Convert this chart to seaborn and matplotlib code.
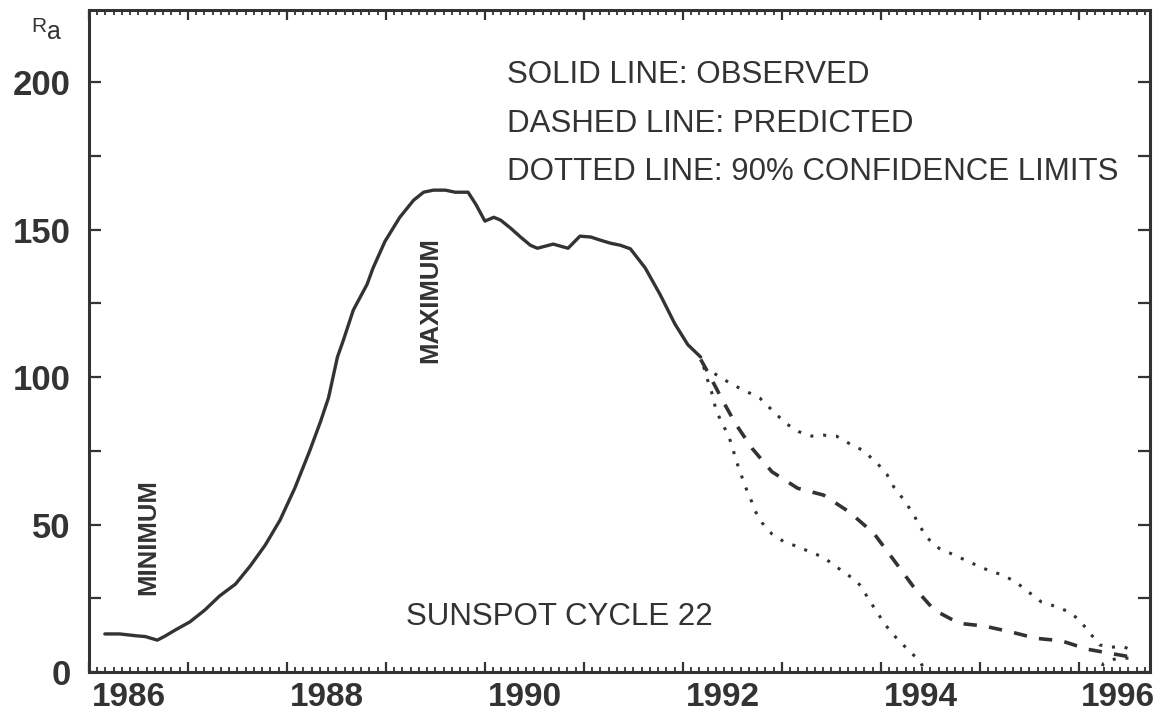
import matplotlib
matplotlib.use('Agg')
import matplotlib.pyplot as plt
import seaborn as sns
from matplotlib.ticker import MultipleLocator

# smoothed sunspot number Ra, cycle 22
obs_year = [1986.16, 1986.31, 1986.47, 1986.57, 1986.69, 1986.77, 1986.87, 1987.02,
            1987.17, 1987.32, 1987.48, 1987.63, 1987.78, 1987.93, 1988.08, 1988.23,
            1988.34, 1988.42, 1988.51, 1988.57, 1988.67, 1988.81, 1988.87, 1988.99,
            1989.14, 1989.28, 1989.38, 1989.48, 1989.60, 1989.70, 1989.83, 1989.91,
            1990.00, 1990.09, 1990.16, 1990.26, 1990.36, 1990.46, 1990.53, 1990.69,
            1990.84, 1990.96, 1991.07, 1991.17, 1991.27, 1991.37, 1991.47, 1991.62,
            1991.77, 1991.92, 1992.05, 1992.18]
obs_ra = [12.9, 12.9, 12.3, 12.0, 10.8, 12.2, 14.2, 17.0,
          21.0, 25.8, 29.8, 36.0, 43.0, 51.5, 62.4, 75.0,
          85.0, 93.0, 106.8, 112.5, 122.7, 131.5, 137.0, 146.0,
          154.2, 160.0, 162.7, 163.4, 163.4, 162.7, 162.7, 158.5,
          152.9, 154.2, 153.2, 150.5, 147.5, 144.7, 143.7, 145.1,
          143.7, 147.8, 147.5, 146.4, 145.4, 144.7, 143.5, 137.0,
          128.0, 118.0, 111.0, 106.8]

# predicted (dashed)
pred_year = [1992.18, 1992.25, 1992.40, 1992.53, 1992.70, 1992.90, 1993.16, 1993.42,
             1993.68, 1993.93, 1994.13, 1994.33, 1994.54, 1994.79, 1995.04, 1995.30,
             1995.57, 1995.82, 1996.09, 1996.32, 1996.56]
pred_ra = [106.0, 101.8, 92.2, 84.3, 75.8, 67.9, 62.3, 60.0,
           54.3, 47.0, 38.0, 28.9, 21.0, 16.5, 15.6, 13.7,
           11.4, 10.6, 7.7, 6.3, 4.9]

# 90% confidence limits (dotted)
upper_year = [1992.21, 1992.40, 1992.51, 1992.65, 1992.78, 1992.91, 1993.04, 1993.17,
              1993.30, 1993.42, 1993.55, 1993.69, 1993.81, 1993.95, 1994.06, 1994.13,
              1994.23, 1994.32, 1994.39, 1994.46, 1994.59, 1994.72, 1994.85, 1994.98,
              1995.10, 1995.23, 1995.36, 1995.49, 1995.62, 1995.75, 1995.88, 1996.00,
              1996.10, 1996.21, 1996.32, 1996.45, 1996.57]
upper_ra = [103.5, 99.5, 97.3, 95.0, 92.8, 88.5, 84.3, 81.5,
            80.0, 80.3, 80.0, 77.3, 75.3, 71.3, 67.1, 62.8,
            58.5, 54.0, 49.8, 45.7, 41.9, 40.0, 38.0, 36.0,
            34.3, 32.9, 30.6, 27.2, 23.8, 22.4, 20.7, 17.9,
            13.7, 9.2, 8.4, 8.6, 6.9]
lower_year = [1992.21, 1992.25, 1992.30, 1992.33, 1992.38, 1992.45, 1992.50, 1992.53,
              1992.58, 1992.62, 1992.68, 1992.73, 1992.80, 1992.90, 1993.02, 1993.16,
              1993.28, 1993.42, 1993.54, 1993.67, 1993.80, 1993.87, 1993.96, 1994.04,
              1994.15, 1994.27, 1994.40, 1994.50, 1996.15, 1996.25, 1996.38, 1996.53]
lower_ra = [103.5, 99.0, 93.9, 89.4, 85.4, 80.9, 76.6, 72.4,
            67.9, 63.7, 59.1, 54.6, 50.6, 46.8, 44.2, 42.5,
            40.8, 38.9, 35.9, 32.9, 29.2, 25.0, 20.4, 16.2,
            11.8, 7.7, 3.5, -4.0, -4.0, 2.9, 4.6, 4.7]

year_ticks = list(range(1986, 1997))
year_labels = ['1986', '1988', '1990', '1992', '1994', '1996']
label_years = [1986, 1988, 1990, 1992, 1994, 1996]

notes = ['SOLID LINE: OBSERVED', 'DASHED LINE: PREDICTED',
         'DOTTED LINE: 90% CONFIDENCE LIMITS']
note_y = [202.4, 185.8, 169.5]

ink = '#333333'

sns.set_style('ticks')
plt.rcParams['font.family'] = ['Liberation Sans', 'DejaVu Sans']
plt.rcParams['text.color'] = ink

fig = plt.figure(figsize=(11.71, 7.18), dpi=100)
ax = fig.add_axes([0.0760, 0.0641, 0.9061, 0.9220])

sns.lineplot(x=obs_year, y=obs_ra, ax=ax, sort=False, color=ink, lw=2.4)
sns.lineplot(x=pred_year, y=pred_ra, ax=ax, sort=False, color=ink, lw=2.6,
             linestyle=(0, (3.7, 3.4)))
sns.lineplot(x=upper_year, y=upper_ra, ax=ax, sort=False, color=ink, lw=2.2,
             linestyle=(0, (1, 3.2)))
sns.lineplot(x=lower_year, y=lower_ra, ax=ax, sort=False, color=ink, lw=2.2,
             linestyle=(0, (1, 3.2)))

ax.set_xlim(1986.0, 1996.72)
ax.set_ylim(0, 224.5)

# axis styling
for sp in ax.spines.values():
    sp.set_linewidth(2.2)
    sp.set_color(ink)
ax.xaxis.set_major_locator(MultipleLocator(1))
ax.xaxis.set_minor_locator(MultipleLocator(1 / 12))
ax.yaxis.set_major_locator(MultipleLocator(50))
ax.yaxis.set_minor_locator(MultipleLocator(25))
ax.tick_params(axis='x', which='both', direction='in', top=True, bottom=True,
               labelbottom=False, color=ink)
ax.tick_params(axis='x', which='major', length=7.5, width=1.6)
ax.tick_params(axis='x', which='minor', length=3.5, width=1.3)
ax.tick_params(axis='y', which='both', direction='in', left=True, right=True,
               length=8.5, width=1.6, color=ink)
ax.tick_params(axis='y', which='major', labelsize=25, pad=13, labelcolor=ink)
for lab in ax.get_yticklabels():
    lab.set_fontweight('bold')
ax.set_xticks(year_ticks)
ax.set_xlabel('')
ax.set_ylabel('')

# year labels, a little right of each even-year tick
for yr, txt in zip(label_years, year_labels):
    ax.text(yr + 0.4, -0.038, txt, transform=ax.get_xaxis_transform(),
            ha='center', va='center', fontsize=24, fontweight='bold', color=ink)

fig.text(31 / 1171, 1 - 26 / 718, 'R', fontsize=15, color=ink,
         ha='left', va='center')
fig.text(47 / 1171, 1 - 32 / 718, 'a', fontsize=18, color=ink,
         ha='left', va='center')

for t, yv in zip(notes, note_y):
    ax.text(1990.22, yv, t, fontsize=22.5, ha='left', va='center', color=ink)

ax.text(1990.75, 18.6, 'SUNSPOT CYCLE 22', fontsize=22.5, ha='center',
        va='center', color=ink)
ax.text(1986.60, 45.8, 'MINIMUM', rotation=90, fontsize=18.5, fontweight='bold',
        ha='center', va='center', color=ink)
ax.text(1989.45, 126, 'MAXIMUM', rotation=90, fontsize=18.5, fontweight='bold',
        ha='center', va='center', color=ink)

fig.savefig('out.png', dpi=100, facecolor='white')
